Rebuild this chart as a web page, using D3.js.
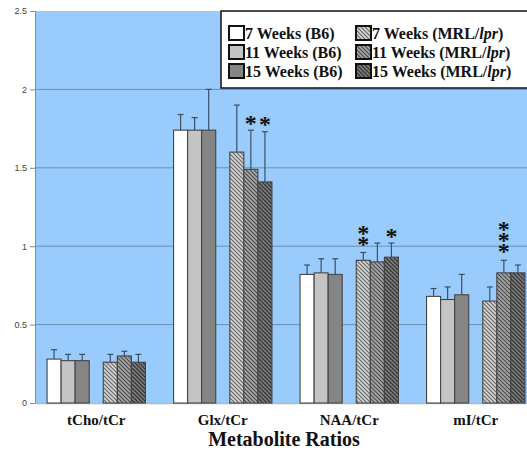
<!DOCTYPE html>
<html>
<head>
<meta charset="utf-8">
<script src="https://cdn.jsdelivr.net/npm/d3@7"></script>
<style>
  body { margin: 0; background: #fff; }
  svg { display: block; }
</style>
</head>
<body>
<div id="chart"></div>
<script>
// Chart data
var categories = ["tCho/tCr", "Glx/tCr", "NAA/tCr", "mI/tCr"];
var seriesNames = ["7 Weeks (B6)", "11 Weeks (B6)", "15 Weeks (B6)",
                   "7 Weeks (MRL/lpr)", "11 Weeks (MRL/lpr)", "15 Weeks (MRL/lpr)"];

var b6Week7 = [0.28, 1.74, 0.82, 0.68];
var b6Week11 = [0.27, 1.74, 0.83, 0.66];
var b6Week15 = [0.27, 1.74, 0.82, 0.69];
var mrlWeek7 = [0.26, 1.60, 0.91, 0.65];
var mrlWeek11 = [0.30, 1.49, 0.90, 0.83];
var mrlWeek15 = [0.26, 1.41, 0.93, 0.83];

var b6Week7Err = [0.06, 0.10, 0.06, 0.05];
var b6Week11Err = [0.04, 0.08, 0.09, 0.08];
var b6Week15Err = [0.04, 0.26, 0.10, 0.13];
var mrlWeek7Err = [0.05, 0.30, 0.05, 0.09];
var mrlWeek11Err = [0.03, 0.25, 0.12, 0.08];
var mrlWeek15Err = [0.05, 0.32, 0.09, 0.05];

// number of significance stars per series / category
var mrlWeek7Stars = [0, 0, 2, 0];
var mrlWeek11Stars = [0, 1, 0, 3];
var mrlWeek15Stars = [0, 1, 1, 0];

var yTicks = [0, 0.5, 1, 1.5, 2, 2.5];
var xTitle = "Metabolite Ratios";

var allValues = [b6Week7, b6Week11, b6Week15, mrlWeek7, mrlWeek11, mrlWeek15];
var allErrors = [b6Week7Err, b6Week11Err, b6Week15Err, mrlWeek7Err, mrlWeek11Err, mrlWeek15Err];
var allStars = [[0, 0, 0, 0], [0, 0, 0, 0], [0, 0, 0, 0], mrlWeek7Stars, mrlWeek11Stars, mrlWeek15Stars];

// SVG area
var svgWidth = 527;
var svgHeight = 453;
var plot = { left: 35, right: 527, top: 11, bottom: 403 };
var serif = "'Liberation Serif', 'Times New Roman', serif";

var svg = d3.select("#chart")
  .append("svg")
  .attr("width", svgWidth)
  .attr("height", svgHeight);

// patterns for the MRL/lpr bars
var defs = svg.append("defs");
var hatch = [
  { id: "h7", base: "#d4d4d4", line: "#6a6a6a" },
  { id: "h11", base: "#a8a8a8", line: "#4a4a4a" },
  { id: "h15", base: "#7c7c7c", line: "#2e2e2e" }
];
hatch.forEach(function (h) {
  var p = defs.append("pattern")
    .attr("id", h.id)
    .attr("patternUnits", "userSpaceOnUse")
    .attr("width", 4)
    .attr("height", 4);
  p.append("rect").attr("width", 4).attr("height", 4).attr("fill", h.base);
  p.append("path")
    .attr("d", "M-1,3 L1,5 M-1,-1 L5,5 M3,-1 L5,1")
    .attr("stroke", h.line)
    .attr("stroke-width", 1.2);
});

var fills = ["#ffffff", "#c4c4c4", "#858585", "url(#h7)", "url(#h11)", "url(#h15)"];

// scales
var x0 = d3.scaleBand()
  .domain(categories)
  .range([33, 539]);

var slots = ["s0", "s1", "s2", "gap", "s3", "s4", "s5"];
var x1 = d3.scaleBand()
  .domain(slots)
  .range([0, x0.bandwidth()])
  .paddingOuter(1)
  .paddingInner(0);
var slotOf = ["s0", "s1", "s2", "s3", "s4", "s5"];

var y = d3.scaleLinear()
  .domain([0, 2.5])
  .range([plot.bottom, plot.top]);

// background
svg.append("rect")
  .attr("x", plot.left)
  .attr("y", plot.top)
  .attr("width", plot.right - plot.left)
  .attr("height", plot.bottom - plot.top)
  .attr("fill", "#99ccfc");

// gridlines
svg.append("g")
  .selectAll("line")
  .data(yTicks.filter(function (t) { return t > 0 && t < 2.5; }))
  .enter()
  .append("line")
  .attr("x1", plot.left)
  .attr("x2", plot.right)
  .attr("y1", function (d) { return y(d); })
  .attr("y2", function (d) { return y(d); })
  .attr("stroke", "#6f8fae")
  .attr("stroke-width", 1);

// y axis
var yAxis = svg.append("g")
  .attr("transform", "translate(" + plot.left + ",0)")
  .call(d3.axisLeft(y).tickValues(yTicks).tickSize(5).tickPadding(3)
    .tickFormat(function (d) { return String(d); }));
yAxis.select(".domain").attr("stroke", "#7a8a9a");
yAxis.selectAll(".tick line").attr("stroke", "#7a8a9a");
yAxis.selectAll("text")
  .attr("fill", "#444")
  .style("font-family", "'Liberation Sans', Arial, sans-serif")
  .style("font-size", "9px");

// x axis baseline
svg.append("line")
  .attr("x1", plot.left)
  .attr("x2", plot.right)
  .attr("y1", plot.bottom + 0.5)
  .attr("y2", plot.bottom + 0.5)
  .attr("stroke", "#b0b8c0")
  .attr("stroke-width", 1.5);

// bars
var barData = [];
allValues.forEach(function (vals, s) {
  vals.forEach(function (v, c) {
    barData.push({ s: s, c: c, v: v, err: allErrors[s][c], stars: allStars[s][c] });
  });
});

function barCenter(d) {
  return x0(categories[d.c]) + x1(slotOf[d.s]) + x1.bandwidth() / 2;
}

svg.append("g")
  .selectAll("rect")
  .data(barData)
  .enter()
  .append("rect")
  .attr("x", function (d) { return x0(categories[d.c]) + x1(slotOf[d.s]); })
  .attr("y", function (d) { return y(d.v); })
  .attr("width", x1.bandwidth())
  .attr("height", function (d) { return y(0) - y(d.v); })
  .attr("fill", function (d) { return fills[d.s]; })
  .attr("stroke", "#444")
  .attr("stroke-width", 1.1);

// error bars (upper only)
var errG = svg.append("g")
  .attr("stroke", "#3d4f63")
  .attr("stroke-width", 1.2);
barData.forEach(function (d) {
  var cx = barCenter(d);
  errG.append("line")
    .attr("x1", cx).attr("x2", cx)
    .attr("y1", y(d.v)).attr("y2", y(d.v + d.err));
  errG.append("line")
    .attr("x1", cx - 3).attr("x2", cx + 3)
    .attr("y1", y(d.v + d.err)).attr("y2", y(d.v + d.err));
});

// significance stars: one vertical text run per bar
var starSize = 24;
var starStep = 11.7;
barData.filter(function (d) { return d.stars > 0; }).forEach(function (d) {
  var cx = barCenter(d);
  var firstCenter = y(d.v + d.err) - 11 - (d.stars - 1) * starStep;
  var starText = d3.range(d.stars).map(function () { return "*"; }).join("");
  if (d.stars === 1) {
    svg.append("text")
      .attr("x", cx)
      .attr("y", firstCenter + 0.48 * starSize)
      .attr("text-anchor", "middle")
      .style("font-family", serif)
      .style("font-weight", "bold")
      .style("font-size", starSize + "px")
      .attr("fill", "#111")
      .text(starText);
  } else {
    svg.append("text")
      .attr("x", cx)
      .attr("y", firstCenter - (0.891 - 0.48) * starSize)
      .style("writing-mode", "vertical-rl")
      .style("text-orientation", "upright")
      .style("letter-spacing", (starStep - 1.107 * starSize) + "px")
      .style("font-family", serif)
      .style("font-weight", "bold")
      .style("font-size", starSize + "px")
      .attr("fill", "#111")
      .text(starText);
  }
});

// category labels
svg.append("g")
  .selectAll("text")
  .data(categories)
  .enter()
  .append("text")
  .attr("x", function (d) { return x0(d) + x0.bandwidth() / 2; })
  .attr("y", 424.8)
  .attr("text-anchor", "middle")
  .style("font-family", serif)
  .style("font-weight", "bold")
  .style("font-size", "15px")
  .attr("fill", "#111")
  .text(function (d) { return d; });

svg.append("text")
  .attr("x", (x0.range()[0] + x0.range()[1]) / 2 - 2)
  .attr("y", 446)
  .attr("text-anchor", "middle")
  .style("font-family", serif)
  .style("font-weight", "bold")
  .style("font-size", "20px")
  .attr("fill", "#111")
  .text(xTitle);

// legend
var legend = svg.append("g").attr("transform", "translate(221,11)");
legend.append("rect")
  .attr("width", 320)
  .attr("height", 77)
  .attr("fill", "#fff")
  .attr("stroke", "#111")
  .attr("stroke-width", 1.5);

seriesNames.forEach(function (name, i) {
  var col = Math.floor(i / 3);
  var row = i % 3;
  var gx = 8 + col * 127;
  var gy = 15 + row * 19;
  var item = legend.append("g").attr("transform", "translate(" + gx + "," + gy + ")");
  item.append("rect")
    .attr("x", 0)
    .attr("y", 0)
    .attr("width", 15)
    .attr("height", 14)
    .attr("fill", fills[i])
    .attr("stroke", "#111")
    .attr("stroke-width", 2);
  var t = item.append("text")
    .attr("x", 16)
    .attr("y", 12.5)
    .style("font-family", serif)
    .style("font-weight", "bold")
    .style("font-size", "16px")
    .attr("fill", "#111");
  var m = name.match(/^(.*\(MRL\/)(lpr)(\))$/);
  if (m) {
    t.append("tspan").text(m[1]);
    t.append("tspan").style("font-style", "italic").text(m[2]);
    t.append("tspan").text(m[3]);
  } else {
    t.text(name);
  }
});
</script>
</body>
</html>
